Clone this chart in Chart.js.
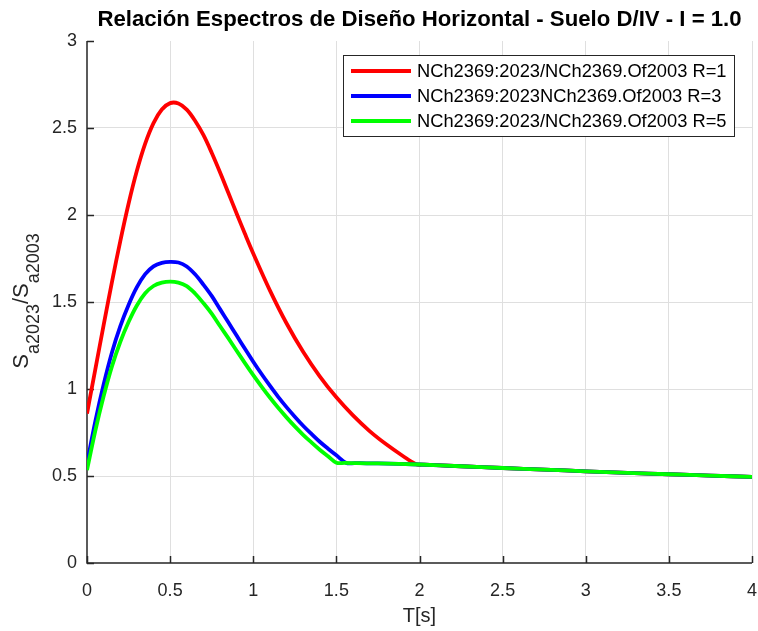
<!DOCTYPE html>
<html>
<head>
<meta charset="utf-8">
<script src="https://cdn.jsdelivr.net/npm/chart.js@4.4.1/dist/chart.umd.min.js"></script>
<style>
  html,body{margin:0;padding:0;background:#fff;}
  #c{display:block;}
</style>
</head>
<body>
<canvas id="c" width="758" height="631"></canvas>
<script>
// T [s] and ratio Sa2023/Sa2003
const T_R1  = [0,0.05,0.1,0.15,0.2,0.25,0.3,0.35,0.4,0.45,0.5,0.55,0.6,0.65,0.7,0.75,0.8,0.85,0.9,0.95,1.0,1.1,1.2,1.3,1.4,1.5,1.6,1.7,1.8,1.9,1.98,2.03,2.1,2.25,2.5,2.75,3.0,3.25,3.5,3.75,4.0];
const SA_R1 = [0.859,1.113,1.367,1.614,1.849,2.065,2.254,2.410,2.528,2.606,2.643,2.641,2.606,2.542,2.460,2.358,2.246,2.128,2.009,1.892,1.779,1.567,1.378,1.214,1.073,0.952,0.848,0.758,0.682,0.615,0.568,0.565,0.562,0.556,0.546,0.537,0.527,0.518,0.510,0.502,0.495];

const T_R3  = [0,0.05,0.1,0.15,0.2,0.25,0.3,0.35,0.4,0.45,0.5,0.55,0.6,0.65,0.7,0.75,0.8,0.85,0.9,0.95,1.0,1.05,1.1,1.15,1.2,1.25,1.3,1.35,1.4,1.45,1.5,1.56,1.61,1.68,1.75,2.0,2.25,2.5,2.75,3.0,3.25,3.5,3.75,4.0];
const SA_R3 = [0.572,0.814,1.026,1.210,1.360,1.483,1.585,1.660,1.705,1.725,1.731,1.727,1.704,1.659,1.600,1.535,1.459,1.384,1.307,1.231,1.157,1.086,1.019,0.955,0.896,0.841,0.789,0.742,0.697,0.657,0.619,0.575,0.574,0.573,0.572,0.566,0.556,0.546,0.537,0.527,0.518,0.510,0.502,0.495];

const T_R5  = [0,0.05,0.1,0.15,0.2,0.25,0.3,0.35,0.4,0.45,0.5,0.55,0.6,0.65,0.7,0.75,0.8,0.85,0.9,0.95,1.0,1.05,1.1,1.15,1.2,1.25,1.3,1.35,1.4,1.45,1.5,1.55,1.62,1.75,2.0,2.25,2.5,2.75,3.0,3.25,3.5,3.75,4.0];
const SA_R5 = [0.534,0.760,0.958,1.130,1.270,1.385,1.480,1.550,1.592,1.611,1.617,1.611,1.591,1.549,1.494,1.433,1.362,1.292,1.220,1.149,1.080,1.014,0.951,0.892,0.837,0.785,0.737,0.693,0.651,0.613,0.576,0.575,0.574,0.572,0.566,0.556,0.546,0.537,0.527,0.518,0.510,0.502,0.495];

const LABELS = ['NCh2369:2023/NCh2369.Of2003 R=1','NCh2369:2023NCh2369.Of2003 R=3','NCh2369:2023/NCh2369.Of2003 R=5'];
const COLORS = ['#ff0000','#0000ff','#00ff00'];
const X_TICKS = [0,0.5,1,1.5,2,2.5,3,3.5,4];
const Y_TICKS = [0,0.5,1,1.5,2,2.5,3];
const TITLE = 'Relación Espectros de Diseño Horizontal - Suelo D/IV - I = 1.0';
const X_LABEL = 'T[s]';

const AX = '#262626';
const FONT = '"Liberation Sans", Arial, Helvetica, sans-serif';
const pts = (xs,ys)=>xs.map((x,i)=>({x, y:ys[i]}));

// matlab-ish decorations: axis lines, inward ticks, title, ylabel, legend
const deco = {
  id:'deco',
  beforeDatasetsDraw(chart){
    const {ctx, chartArea:a, scales:{x,y}} = chart;
    ctx.save();
    ctx.strokeStyle = AX; ctx.lineWidth = 1.5;
    ctx.beginPath();
    ctx.moveTo(a.left, a.top); ctx.lineTo(a.left, a.bottom); ctx.lineTo(a.right, a.bottom);
    ctx.stroke();
    ctx.beginPath();
    X_TICKS.forEach(v=>{ const px = Math.round(x.getPixelForValue(v))+0.5; ctx.moveTo(px,a.bottom); ctx.lineTo(px,a.bottom-7); });
    Y_TICKS.forEach(v=>{ const py = Math.round(y.getPixelForValue(v))+0.5; ctx.moveTo(a.left,py); ctx.lineTo(a.left+7,py); });
    ctx.stroke();
    ctx.restore();
  },
  afterDraw(chart){
    const {ctx, chartArea:a} = chart;
    ctx.save();
    // title
    ctx.fillStyle = '#000';
    ctx.font = 'bold 22.2px ' + FONT;
    ctx.textAlign = 'center'; ctx.textBaseline = 'alphabetic';
    ctx.fillText(TITLE, (a.left+a.right)/2, 26);
    // x label
    ctx.fillStyle = AX;
    ctx.font = '20px ' + FONT;
    ctx.fillText(X_LABEL, (a.left+a.right)/2, 622);
    // y label with subscripts
    const parts = [['S',22,0],['a2023',18,11],['/S',22,0],['a2003',18,11]];
    let w = 0;
    parts.forEach(p=>{ ctx.font = p[1]+'px '+FONT; w += ctx.measureText(p[0]).width; });
    ctx.translate(28, 301);
    ctx.rotate(-Math.PI/2);
    ctx.textAlign = 'left';
    let cx = -w/2;
    parts.forEach(p=>{ ctx.font = p[1]+'px '+FONT; ctx.fillText(p[0], cx, p[2]); cx += ctx.measureText(p[0]).width; });
    ctx.restore();

    // legend
    ctx.save();
    const lx = 343.5, ly = 55.5, lw = 391, lh = 81;
    ctx.fillStyle = '#fff'; ctx.fillRect(lx, ly, lw, lh);
    ctx.strokeStyle = AX; ctx.lineWidth = 1; ctx.strokeRect(lx, ly, lw, lh);
    ctx.font = '18.3px ' + FONT; ctx.textBaseline = 'middle'; ctx.fillStyle = '#000';
    chart.data.datasets.forEach((ds,i)=>{
      const yy = 71 + i*25;
      ctx.strokeStyle = ds.borderColor; ctx.lineWidth = 4;
      ctx.beginPath(); ctx.moveTo(351, yy); ctx.lineTo(411, yy); ctx.stroke();
      ctx.fillText(ds.label, 417, yy+1);
    });
    ctx.restore();
  }
};

new Chart(document.getElementById('c'), {
  type:'line',
  data:{ datasets:[
    {label:LABELS[0], data:pts(T_R1,SA_R1), borderColor:COLORS[0], order:3},
    {label:LABELS[1], data:pts(T_R3,SA_R3), borderColor:COLORS[1], order:2},
    {label:LABELS[2], data:pts(T_R5,SA_R5), borderColor:COLORS[2], order:1}
  ]},
  options:{
    responsive:false, animation:false, devicePixelRatio:1,
    datasets:{ line:{ borderWidth:3.8, pointRadius:0, tension:0.35, fill:false } },
    layout:{ padding:{ top:41, right:6, left:0, bottom:0 } },
    plugins:{ legend:{display:false}, title:{display:false}, tooltip:{enabled:false} },
    scales:{
      x:{
        type:'linear', min:0, max:4,
        afterFit(s){ s.height = 68; s.paddingLeft = 0; s.paddingRight = 0; },
        afterBuildTicks(s){ s.ticks = X_TICKS.map(v=>({value:v})); },
        grid:{ color:c=>(c.tick && c.tick.value===0) ? 'rgba(0,0,0,0)' : '#dfdfdf', drawTicks:false },
        border:{display:false},
        ticks:{ color:AX, font:{family:FONT, size:18}, padding:17, maxRotation:0, callback:v=>String(v) }
      },
      y:{
        type:'linear', min:0, max:3,
        afterFit(s){ s.width = 87; s.paddingTop = 0; s.paddingBottom = 0; },
        afterBuildTicks(s){ s.ticks = Y_TICKS.map(v=>({value:v})); },
        grid:{ color:c=>(c.tick && (c.tick.value===0 || c.tick.value===3)) ? 'rgba(0,0,0,0)' : '#dfdfdf', drawTicks:false },
        border:{display:false},
        ticks:{ color:AX, font:{family:FONT, size:18}, padding:10, callback:v=>String(v) }
      }
    }
  },
  plugins:[deco]
});
</script>
</body>
</html>
